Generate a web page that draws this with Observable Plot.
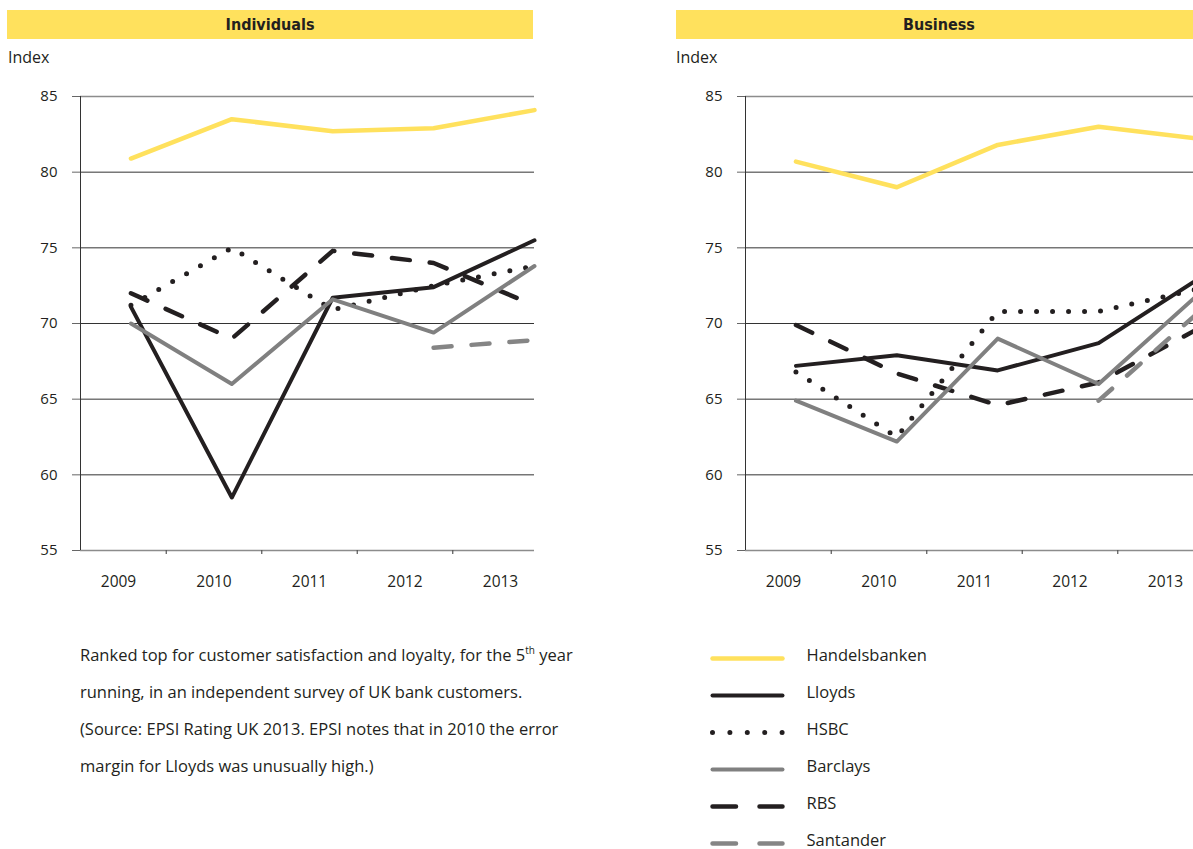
<!DOCTYPE html>
<html><head><meta charset="utf-8">
<script src="https://cdn.jsdelivr.net/npm/d3@7"></script>
<script src="https://cdn.jsdelivr.net/npm/@observablehq/plot@0.6"></script>
<style>
html,body{margin:0;padding:0;background:#fff;overflow:hidden;width:1193px;height:849px;}
body{position:relative;font-family:"Open Sans",Lato,sans-serif;color:#231F20;}
.bar{position:absolute;top:10px;height:29px;width:526px;background:#FFE15D;font-family:"Liberation Sans Narrow","DejaVu Sans Condensed",Roboto,sans-serif;font-weight:bold;font-size:16px;line-height:30px;text-align:center;color:#231F20;}
.idx{position:absolute;top:46px;font-size:16px;line-height:22px;color:#231F20;}
.note{position:absolute;left:80px;top:636px;font-size:16.5px;line-height:37px;color:#231F20;white-space:nowrap;}
.note sup{font-size:10px;line-height:0;vertical-align:7px;}
svg{overflow:visible;}
</style></head><body>
<script>
// ---- data ----
const years = [2009, 2010, 2011, 2012, 2013];
const banks = ["Handelsbanken", "Lloyds", "HSBC", "Barclays", "RBS", "Santander"];
const yTicks = [55, 60, 65, 70, 75, 80, 85];

// Individuals
const indHandelsbanken = [80.9, 83.5, 82.7, 82.9, 84.1];
const indLloyds        = [71.1, 58.5, 71.7, 72.4, 75.5];
const indHSBC          = [71.2, 75.0, 70.9, 72.5, 73.8];
const indBarclays      = [70.0, 66.0, 71.6, 69.4, 73.8];
const indRBS           = [72.0, 69.0, 74.8, 74.0, 71.2];
const indSantander     = [null, null, null, 68.4, 68.9];

// Business
const busHandelsbanken = [80.7, 79.0, 81.8, 83.0, 82.2];
const busLloyds        = [67.2, 67.9, 66.9, 68.7, 73.0];
const busHSBC          = [66.8, 62.5, 70.8, 70.8, 72.3];
const busBarclays      = [64.9, 62.2, 69.0, 66.0, 72.0];
const busRBS           = [69.9, 66.7, 64.6, 66.1, 69.7];
const busSantander     = [null, null, null, 64.9, 70.8];

// ---- styles ----
const ink = "#231F20";
const lineStyle = {
  Handelsbanken: {stroke: "#FFE15D", strokeWidth: 4.5, strokeLinecap: "round"},
  Lloyds:        {stroke: ink, strokeWidth: 4, strokeLinecap: "round"},
  HSBC:          {stroke: ink, strokeWidth: 5, strokeLinecap: "round", strokeDasharray: "0,16"},
  Barclays:      {stroke: "#808080", strokeWidth: 4, strokeLinecap: "round"},
  RBS:           {stroke: ink, strokeWidth: 4.5, strokeLinecap: "round", strokeDasharray: "18,20"},
  Santander:     {stroke: "#858585", strokeWidth: 4.5, strokeLinecap: "round", strokeDasharray: "18,20"}
};
const legendDash = {HSBC: "0,17.4", RBS: "23.5,23.5", Santander: "23.5,23.5"};
const drawOrder = ["Handelsbanken", "RBS", "HSBC", "Lloyds", "Barclays", "Santander"];
const font = "'Open Sans', Lato, sans-serif";

function rowsFor(series) {
  return banks.flatMap(b => years.map((yr, i) => ({bank: b, year: yr, value: series[b][i]})))
    .filter(d => d.value != null);
}

function add(el, left, top) {
  el.style.position = "absolute";
  el.style.left = left + "px";
  el.style.top = top + "px";
  document.body.appendChild(el);
}

function panel(title, series, pos) {
  const bar = document.createElement("div");
  bar.className = "bar";
  bar.style.left = pos.bar + "px";
  bar.textContent = title;
  document.body.appendChild(bar);

  const idx = document.createElement("div");
  idx.className = "idx";
  idx.style.left = pos.index + "px";
  idx.textContent = "Index";
  document.body.appendChild(idx);

  const rows = rowsFor(series);
  const chart = Plot.plot({
    width: 560, height: 480,
    marginLeft: 80, marginRight: 26, marginTop: 16, marginBottom: 10,
    style: {fontFamily: font, fontSize: "15px", color: ink, background: "transparent"},
    x: {type: "linear", domain: [2008.5, 2013], axis: null},
    y: {domain: [55, 85]},
    marks: [
      Plot.ruleY(yTicks.filter(t => t !== 55 && t !== 85), {stroke: "#333", strokeWidth: 1}),
      Plot.ruleY([55, 85], {stroke: "#8c8c8c", strokeWidth: 1.5}),
      Plot.axisY(yTicks, {tickSize: 8, tickPadding: 15, stroke: "#666", label: null, tickFormat: d => String(d), fill: ink}),
      Plot.ruleX([2008.5], {stroke: "#333", strokeWidth: 1}),
      ...drawOrder.map(b => Plot.line(rows.filter(d => d.bank === b),
        {x: "year", y: "value", strokeLinejoin: "round", ...lineStyle[b]}))
    ]
  });
  add(chart, pos.svg, 80);

  const axis = Plot.plot({
    width: 560, height: 50,
    marginLeft: 80, marginRight: 26, marginTop: 0, marginBottom: 46,
    style: {fontFamily: font, fontSize: "15.5px", color: ink, background: "transparent"},
    x: {domain: [2009, 2013], range: [118, 500]},
    marks: [
      Plot.tickX(years.slice(0, -1).map(y => y + 0.5), {x: d => d, stroke: "#555", strokeWidth: 1.2}),
      Plot.axisX(years, {anchor: "bottom", tickSize: 0, tickPadding: 21, label: null, tickFormat: d => String(d), fill: ink})
    ]
  });
  add(axis, pos.svg, 550);
}

panel("Individuals", {
  Handelsbanken: indHandelsbanken, Lloyds: indLloyds, HSBC: indHSBC,
  Barclays: indBarclays, RBS: indRBS, Santander: indSantander
}, {bar: 7, index: 8, svg: 0});

panel("Business", {
  Handelsbanken: busHandelsbanken, Lloyds: busLloyds, HSBC: busHSBC,
  Barclays: busBarclays, RBS: busRBS, Santander: busSantander
}, {bar: 676, index: 676, svg: 665});

// note
const note = document.createElement("div");
note.className = "note";
note.innerHTML = "Ranked top for customer satisfaction and loyalty, for the 5<sup>th</sup> year<br>" +
  "running, in an independent survey of UK bank customers.<br>" +
  "(Source: EPSI Rating UK 2013. EPSI notes that in 2010 the error<br>" +
  "margin for Lloyds was unusually high.)";
document.body.appendChild(note);

// legend
const legend = Plot.plot({
  width: 300, height: 230,
  margin: 0,
  style: {fontFamily: font, fontSize: "16.5px", color: ink, background: "transparent"},
  x: {domain: [0, 1], range: [14.5, 84.5], axis: null},
  y: {type: "point", domain: banks, range: [27.3, 213.3], padding: 0, axis: null},
  marks: [
    ...banks.map(b => Plot.ruleY([b], {
      y: d => d, x1: 0, x2: 1,
      ...lineStyle[b],
      strokeDasharray: legendDash[b] || null
    })),
    Plot.text(banks, {x: 1, y: d => d, dx: 23.5, dy: -3, text: d => d, textAnchor: "start", fill: ink})
  ]
});
add(legend, 698, 630);
</script>
</body></html>
